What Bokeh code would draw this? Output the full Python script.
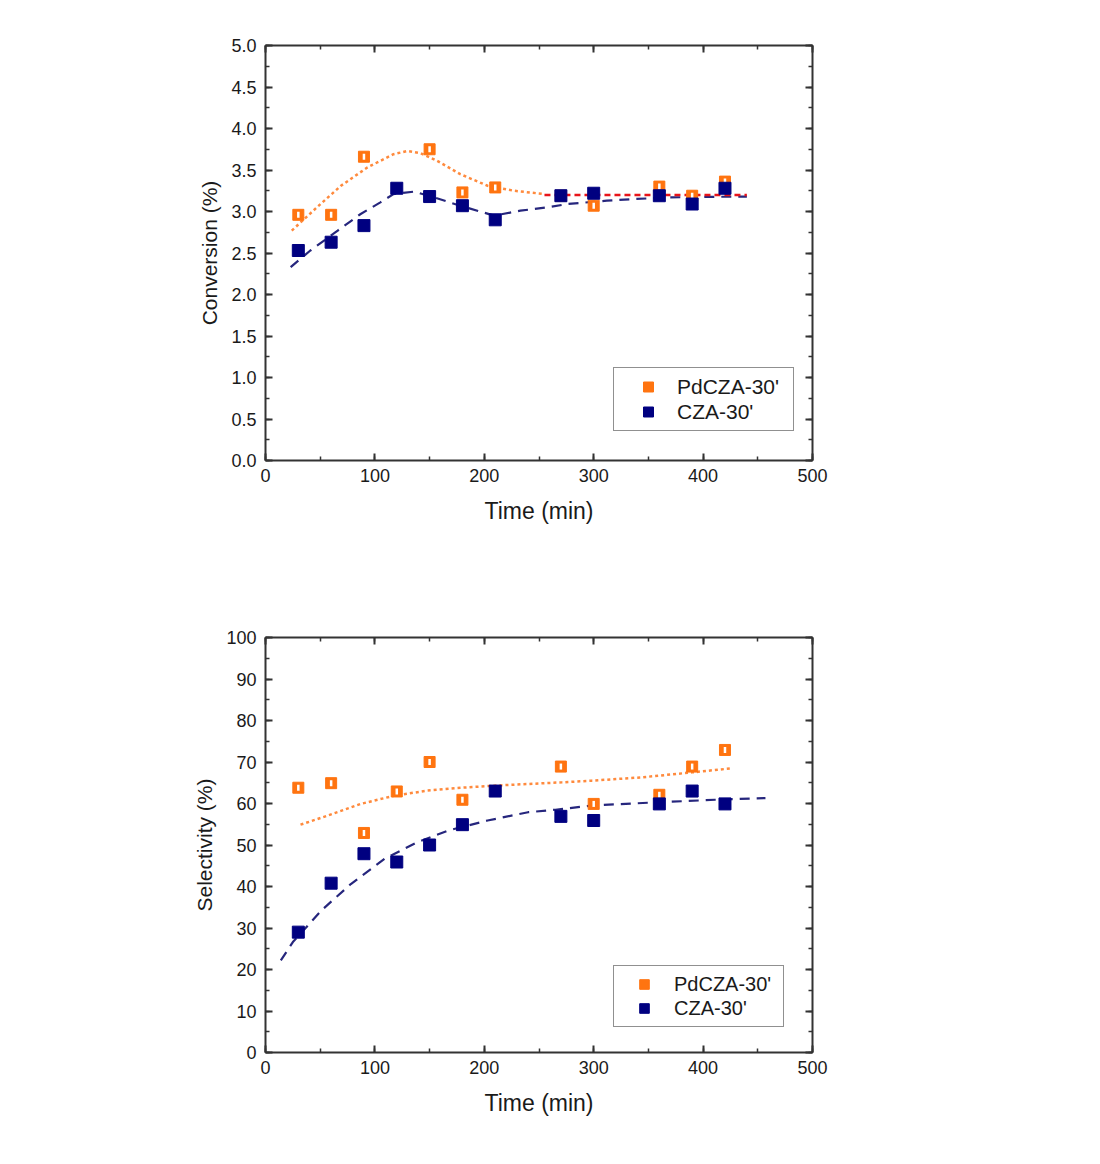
import math
from bokeh.plotting import figure
from bokeh.models import (LinearAxis, SingleIntervalTicker, NumeralTickFormatter,
                          Range1d, Legend, LegendItem)
from bokeh.layouts import column
from bokeh.embed import file_html
from bokeh.resources import INLINE

# --- conversion (%) vs time (min)
conv_time_pd = [30, 60, 90, 150, 180, 210, 270, 300, 360, 390, 420]
conv_pd = [2.96, 2.96, 3.66, 3.75, 3.23, 3.29, 3.19, 3.07, 3.30, 3.19, 3.36]
conv_time_cza = [30, 60, 90, 120, 150, 180, 210, 270, 300, 360, 390, 420]
conv_cza = [2.53, 2.63, 2.83, 3.28, 3.18, 3.07, 2.90, 3.19, 3.22, 3.19, 3.09, 3.28]

# fitted curves
conv_fit_pd_t = [24, 47, 69, 93, 117, 130, 142, 157, 178, 203, 227, 255]
conv_fit_pd = [2.77, 3.05, 3.31, 3.53, 3.69, 3.73, 3.70, 3.61, 3.45, 3.31, 3.25, 3.21]
conv_fit_red_t = [255, 440]
conv_fit_red = [3.20, 3.20]
conv_fit_cza_t = [23, 41, 66, 87, 105, 117, 136, 154, 178, 209, 233, 258, 276, 312, 337, 370, 431, 440]
conv_fit_cza = [2.33, 2.53, 2.77, 2.97, 3.11, 3.21, 3.24, 3.17, 3.07, 2.95, 3.01, 3.05, 3.09, 3.13,
                3.15, 3.17, 3.18, 3.18]

# --- selectivity (%) vs time (min)
sel_time_pd = [30, 60, 90, 120, 150, 180, 270, 300, 360, 390, 420]
sel_pd = [63.8, 64.9, 52.9, 62.9, 70.0, 60.9, 68.9, 59.9, 62.1, 68.9, 72.9]
sel_time_cza = [30, 60, 90, 120, 150, 180, 210, 270, 300, 360, 390, 420]
sel_cza = [29.0, 40.8, 47.9, 45.9, 50.0, 54.9, 63.0, 56.9, 55.9, 59.9, 63.0, 59.9]

sel_fit_pd_t = [32, 57, 87, 118, 148, 179, 209, 240, 271, 298, 344, 390, 427]
sel_fit_pd = [54.9, 57.1, 59.9, 61.9, 63.1, 63.8, 64.3, 64.7, 65.1, 65.5, 66.3, 67.5, 68.5]
sel_fit_cza_t = [14, 25, 51, 78, 109, 139, 167, 203, 240, 265, 298, 359, 411, 457]
sel_fit_cza = [22.2, 26.6, 34.2, 40.6, 46.7, 50.7, 53.5, 55.9, 57.9, 58.5, 59.5, 60.3, 60.9, 61.3]

FONT = "Liberation Sans"
ORANGE = "#FF7410"
NAVY = "#000080"
AXIS = "#333333"
TEXT = "#1a1a1a"


def style_axis(ax, show_labels):
    ax.axis_line_color = AXIS
    ax.axis_line_width = 2
    ax.major_tick_line_color = AXIS
    ax.minor_tick_line_color = AXIS
    ax.major_tick_line_width = 2
    ax.minor_tick_line_width = 1.5
    ax.major_tick_in = 7
    ax.major_tick_out = 0
    ax.minor_tick_in = 4
    ax.minor_tick_out = 0
    ax.major_label_text_font = FONT
    ax.major_label_text_font_size = "18px"
    ax.axis_label_text_font = FONT
    ax.axis_label_text_font_style = "normal"
    ax.axis_label_text_color = TEXT
    # top and right axes only mirror the ticks
    ax.major_label_text_color = TEXT if show_labels else None


def create_fig(ylabel, y_end, y_step, y_fmt, border_bottom):
    p = figure(frame_width=547, frame_height=415,
               min_border_left=265, min_border_right=50,
               min_border_top=45, min_border_bottom=border_bottom,
               x_range=Range1d(0, 500), y_range=Range1d(0, y_end),
               output_backend="svg", toolbar_location=None, tools="")
    p.xgrid.visible = False
    p.ygrid.visible = False
    p.outline_line_color = None

    p.xaxis.ticker = SingleIntervalTicker(interval=100, num_minor_ticks=2)
    p.yaxis.ticker = SingleIntervalTicker(interval=y_step, num_minor_ticks=2)
    p.yaxis.formatter = NumeralTickFormatter(format=y_fmt)
    p.xaxis.axis_label = "Time (min)"
    p.yaxis.axis_label = ylabel
    style_axis(p.xaxis[0], True)
    style_axis(p.yaxis[0], True)
    p.xaxis.axis_label_text_font_size = "23px"
    p.yaxis.axis_label_text_font_size = "21px"
    p.xaxis.major_label_standoff = 8
    p.xaxis.axis_label_standoff = 13
    p.yaxis.major_label_standoff = 9
    p.yaxis.axis_label_standoff = 7

    top = LinearAxis(ticker=SingleIntervalTicker(interval=100, num_minor_ticks=2))
    right = LinearAxis(ticker=SingleIntervalTicker(interval=y_step, num_minor_ticks=2))
    style_axis(top, False)
    style_axis(right, False)
    p.add_layout(top, "above")
    p.add_layout(right, "right")
    return p


def add_points(p, t_pd, v_pd, t_cza, v_cza):
    r_sq = p.scatter(t_pd, v_pd, marker="square", size=11, fill_color=ORANGE, line_color=ORANGE)
    r_bar = p.scatter(t_pd, v_pd, marker="dash", size=6, angle=math.pi / 2,
                      line_color="white", line_width=2.5)
    r_cza = p.scatter(t_cza, v_cza, marker="square", size=12, fill_color=NAVY, line_color=NAVY)
    return [r_sq], [r_cza]


def add_legend(p, pd_r, cza_r, loc, glyph_w, standoff, label_w, glyph_h, font_size):
    leg = Legend(items=[LegendItem(label="PdCZA-30'", renderers=pd_r),
                        LegendItem(label="CZA-30'", renderers=cza_r)],
                 location=loc, padding=6, spacing=0, margin=0,
                 glyph_width=glyph_w, glyph_height=glyph_h, label_height=glyph_h,
                 label_standoff=standoff, label_width=label_w,
                 label_text_font=FONT, label_text_font_size=font_size,
                 label_text_color=TEXT,
                 border_line_color="#222222", border_line_width=1.5,
                 background_fill_color="white")
    p.add_layout(leg, "center")


def main():
    # conversion
    p1 = create_fig("Conversion (%)", 5, 0.5, "0.0", 132)
    p1.line(conv_fit_pd_t, conv_fit_pd, line_color="#FF8A3D", line_width=2.5, line_dash="3 3")
    p1.line(conv_fit_cza_t, conv_fit_cza, line_color="#26267D", line_width=2.2, line_dash="10 7")
    p1.line(conv_fit_red_t, conv_fit_red, line_color="#E8141A", line_width=2.5, line_dash="6 4")
    pd_r, cza_r = add_points(p1, conv_time_pd, conv_pd, conv_time_cza, conv_cza)
    add_legend(p1, pd_r, cza_r, (348, 29), 56, 1, 110, 25, "21px")

    # selectivity
    p2 = create_fig("Selectivity (%)", 100, 10, "0", 80)
    p2.line(sel_fit_pd_t, sel_fit_pd, line_color="#FF8A3D", line_width=2.5, line_dash="3 3")
    p2.line(sel_fit_cza_t, sel_fit_cza, line_color="#26267D", line_width=2.2, line_dash="10 7")
    pd_r, cza_r = add_points(p2, sel_time_pd, sel_pd, sel_time_cza, sel_cza)
    add_legend(p2, pd_r, cza_r, (348, 25), 48, 6, 103, 24, "20px")

    layout = column(p1, p2)
    with open("out.html", "w") as f:
        f.write(file_html(layout, INLINE))


if __name__ == '__main__':
    main()
